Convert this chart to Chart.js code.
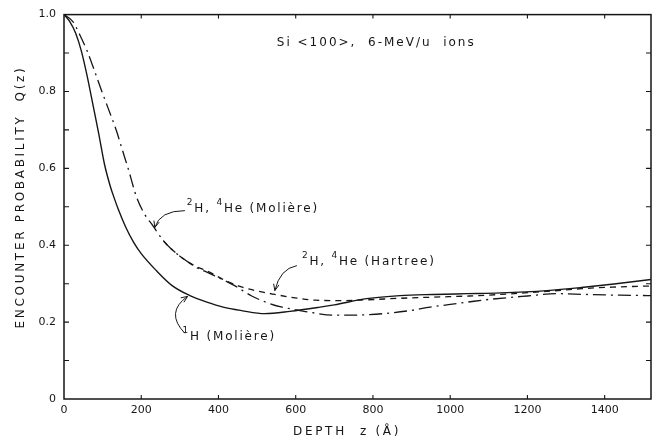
<!DOCTYPE html>
<html>
<head>
<meta charset="utf-8">
<script src="https://cdn.jsdelivr.net/npm/chart.js@4/dist/chart.umd.min.js"></script>
<style>
  html, body { margin: 0; padding: 0; background: #fff; }
  canvas { display: block; background: #fff; }
</style>
</head>
<body>
<canvas id="chartQ" width="653" height="441"></canvas>
<script>
// valores (z em angstrom, Q adimensional)
var zH1 = [0, 15, 30, 45, 60, 75, 90, 105, 120, 131, 140, 160, 180, 200, 239, 280, 326, 370, 412, 460, 520, 585, 663, 700, 784, 870, 957, 1044, 1130, 1250, 1340, 1424, 1520];
var qH1 = [1.0, 0.982, 0.952, 0.905, 0.84, 0.765, 0.69, 0.61, 0.553, 0.52, 0.495, 0.447, 0.408, 0.378, 0.334, 0.295, 0.269, 0.252, 0.239, 0.23, 0.222, 0.228, 0.239, 0.245, 0.261, 0.269, 0.272, 0.274, 0.276, 0.282, 0.29, 0.299, 0.311];

var zMoliere = [0, 23, 42, 60, 75, 98, 113, 136, 152, 166, 188, 208, 230, 257, 278, 313, 343, 370, 395, 438, 486, 520, 559, 590, 640, 700, 780, 896, 948, 1000, 1052, 1100, 1200, 1277, 1350, 1440, 1520];
var qMoliere = [1.0, 0.982, 0.945, 0.905, 0.865, 0.80, 0.76, 0.697, 0.645, 0.60, 0.525, 0.482, 0.451, 0.412, 0.39, 0.362, 0.342, 0.33, 0.318, 0.297, 0.268, 0.253, 0.24, 0.234, 0.225, 0.218, 0.219, 0.23, 0.239, 0.246, 0.253, 0.259, 0.268, 0.274, 0.272, 0.27, 0.269];

var zHartree = [257, 278, 313, 343, 373, 410, 455, 496, 546, 598, 650, 720, 784, 870, 957, 1050, 1130, 1250, 1340, 1420, 1520];
var qHartree = [0.412, 0.39, 0.362, 0.344, 0.332, 0.312, 0.293, 0.282, 0.272, 0.263, 0.257, 0.256, 0.258, 0.262, 0.265, 0.268, 0.272, 0.28, 0.287, 0.291, 0.294];

var xTicks = [0, 200, 400, 600, 800, 1000, 1200, 1400];
var yTicks = [0, 0.2, 0.4, 0.6, 0.8, 1.0];
var yTickLabels = ["0", "0.2", "0.4", "0.6", "0.8", "1.0"];
var yMinorTicks = [0.1, 0.2, 0.3, 0.4, 0.5, 0.6, 0.7, 0.8, 0.9];

var INK = "#161616";
var FONT = "DejaVu Sans";

function pontos(zs, qs) {
  return zs.map(function (z, i) {
    return { x: z, y: qs[i] };
  });
}

// textos e setas, posicionados em coordenadas de dados
var rotulos = [
  { partes: [["2", true], ["H, ", false], ["4", true], ["He (Molière)", false]], z: 318, q: 0.495 },
  { partes: [["2", true], ["H, ", false], ["4", true], ["He (Hartree)", false]], z: 616, q: 0.357 },
  { partes: [["1", true], ["H (Molière)", false]], z: 307, q: 0.161 }
];
var setas = [
  { de: [313, 0.49], ctrl: [248, 0.49], ate: [235, 0.446] },
  { de: [603, 0.347], ctrl: [559, 0.339], ate: [546, 0.282] },
  { de: [313, 0.171], ctrl: [261, 0.225], ate: [320, 0.267] }
];

function desenharTexto(ctx, partes, x, y) {
  var cx = x;
  partes.forEach(function (p) {
    if (p[1]) {
      ctx.font = "9px " + FONT;
      ctx.fillText(p[0], cx, y - 6);
    } else {
      ctx.font = "12px " + FONT;
      ctx.fillText(p[0], cx, y);
    }
    cx += ctx.measureText(p[0]).width;
  });
}

var molduraPlugin = {
  id: "moldura",
  afterDraw: function (chart) {
    var ctx = chart.ctx;
    var a = chart.chartArea;
    var sx = chart.scales.x;
    var sy = chart.scales.y;
    ctx.save();
    ctx.strokeStyle = INK;
    ctx.fillStyle = INK;

    // caixa
    ctx.lineWidth = 1.5;
    ctx.strokeRect(a.left, a.top, a.right - a.left, a.bottom - a.top);

    // marcas internas
    ctx.lineWidth = 1.1;
    ctx.beginPath();
    yMinorTicks.forEach(function (v) {
      var py = sy.getPixelForValue(v);
      ctx.moveTo(a.left, py); ctx.lineTo(a.left + 5, py);
      ctx.moveTo(a.right, py); ctx.lineTo(a.right - 5, py);
    });
    xTicks.forEach(function (v) {
      if (v === 0) return;
      var px = sx.getPixelForValue(v);
      ctx.moveTo(px, a.bottom); ctx.lineTo(px, a.bottom - 4);
      ctx.moveTo(px, a.top); ctx.lineTo(px, a.top + 4);
    });
    ctx.stroke();

    // títulos dos eixos
    ctx.letterSpacing = "2.7px";
    ctx.font = "12px " + FONT;
    ctx.textAlign = "center";
    ctx.textBaseline = "middle";
    ctx.fillText("DEPTH  z (Å)", 347, 432);
    ctx.save();
    ctx.translate(21, 197);
    ctx.rotate(-Math.PI / 2);
    ctx.fillText("ENCOUNTER PROBABILITY  Q(z)", 0, 0);
    ctx.restore();

    // legenda do topo
    ctx.letterSpacing = "2px";
    ctx.textAlign = "left";
    ctx.fillText("Si <100>,  6-MeV/u  ions", sx.getPixelForValue(551), sy.getPixelForValue(0.927));

    // rótulos das curvas
    ctx.letterSpacing = "1.8px";
    rotulos.forEach(function (r) {
      desenharTexto(ctx, r.partes, sx.getPixelForValue(r.z), sy.getPixelForValue(r.q));
    });

    // setas curvas
    ctx.letterSpacing = "0px";
    ctx.lineWidth = 1;
    setas.forEach(function (s) {
      var x0 = sx.getPixelForValue(s.de[0]), y0 = sy.getPixelForValue(s.de[1]);
      var xc = sx.getPixelForValue(s.ctrl[0]), yc = sy.getPixelForValue(s.ctrl[1]);
      var x1 = sx.getPixelForValue(s.ate[0]), y1 = sy.getPixelForValue(s.ate[1]);
      ctx.beginPath();
      ctx.moveTo(x0, y0);
      ctx.quadraticCurveTo(xc, yc, x1, y1);
      ctx.stroke();
      var ang = Math.atan2(y1 - yc, x1 - xc);
      ctx.beginPath();
      ctx.moveTo(x1 - 7 * Math.cos(ang - 0.4), y1 - 7 * Math.sin(ang - 0.4));
      ctx.lineTo(x1, y1);
      ctx.lineTo(x1 - 7 * Math.cos(ang + 0.4), y1 - 7 * Math.sin(ang + 0.4));
      ctx.stroke();
    });
    ctx.restore();
  }
};

document.addEventListener("DOMContentLoaded", function () {
  if (typeof Chart === "undefined") {
    console.error("Chart.js não carregou");
    return;
  }
  var ctx = document.getElementById("chartQ").getContext("2d");

  new Chart(ctx, {
    type: "line",
    data: {
      datasets: [
        {
          label: "1H (Molière)",
          data: pontos(zH1, qH1),
          borderColor: INK,
          borderWidth: 1.4,
          pointRadius: 0,
          cubicInterpolationMode: "monotone"
        },
        {
          label: "2H, 4He (Molière)",
          data: pontos(zMoliere, qMoliere),
          borderColor: INK,
          borderWidth: 1.3,
          borderDash: [13, 5, 2, 5],
          pointRadius: 0,
          cubicInterpolationMode: "monotone"
        },
        {
          label: "2H, 4He (Hartree)",
          data: pontos(zHartree, qHartree),
          borderColor: INK,
          borderWidth: 1.3,
          borderDash: [6, 5],
          pointRadius: 0,
          cubicInterpolationMode: "monotone"
        }
      ]
    },
    options: {
      responsive: false,
      animation: false,
      layout: { padding: { top: 13, right: 2, left: 0, bottom: 0 } },
      plugins: {
        legend: { display: false },
        tooltip: { enabled: false }
      },
      scales: {
        x: {
          type: "linear",
          min: 0,
          max: 1520,
          afterBuildTicks: function (s) {
            s.ticks = xTicks.map(function (v) { return { value: v }; });
          },
          afterFit: function (s) { s.height = 42; },
          grid: { display: false, drawTicks: false },
          border: { display: false },
          ticks: {
            color: INK,
            padding: 5,
            maxRotation: 0,
            autoSkip: false,
            font: { family: FONT, size: 11 },
            callback: function (v) { return String(v); }
          }
        },
        y: {
          min: 0,
          max: 1,
          afterBuildTicks: function (s) {
            s.ticks = yTicks.map(function (v) { return { value: v }; });
          },
          afterFit: function (s) { s.width = 64; },
          grid: { display: false, drawTicks: false },
          border: { display: false },
          ticks: {
            color: INK,
            padding: 8,
            autoSkip: false,
            font: { family: FONT, size: 11 },
            callback: function (v, i) { return yTickLabels[i]; }
          }
        }
      }
    },
    plugins: [molduraPlugin]
  });
});
</script>
</body>
</html>
